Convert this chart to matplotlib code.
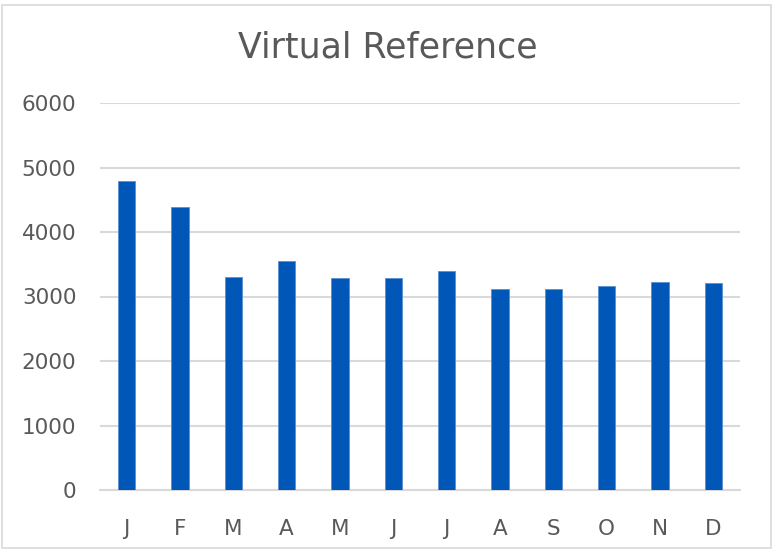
import matplotlib.pyplot as plt
from matplotlib.patches import Rectangle

# monthly values
months = ['J', 'F', 'M', 'A', 'M', 'J', 'J', 'A', 'S', 'O', 'N', 'D']
values = [4790, 4390, 3310, 3550, 3290, 3290, 3400, 3120, 3120, 3160, 3230, 3210]
y_ticks = [0, 1000, 2000, 3000, 4000, 5000, 6000]

plt.rcParams['font.family'] = ['DejaVu Sans']

fig = plt.figure(figsize=(7.75, 5.5), dpi=100)
ax = fig.add_axes([100 / 775, 1 - 490 / 550, 640 / 775, 387 / 550])

# bars
x = range(len(months))
ax.bar(x, values, width=0.32, color='#0057B8', edgecolor='#5B8FD0', linewidth=0.6, zorder=3)

# axes styling
ax.set_xlim(-0.5, len(months) - 0.5)
ax.set_ylim(0, 6000)
ax.set_yticks(y_ticks)
ax.set_yticklabels([str(v) for v in y_ticks])
ax.set_xticks(list(x))
ax.set_xticklabels(months)
ax.grid(axis='y', color='#D9D9D9', linewidth=1.5, zorder=0)
for side in ['top', 'right', 'left']:
    ax.spines[side].set_visible(False)
ax.spines['bottom'].set_color('#D9D9D9')
ax.spines['bottom'].set_linewidth(1.5)
ax.tick_params(axis='both', length=0, labelsize=15.5, labelcolor='#595959')
ax.tick_params(axis='y', pad=17)
ax.tick_params(axis='x', pad=21)

fig.text(0.5, 1 - 48 / 550, 'Virtual Reference', ha='center', va='center',
         fontsize=25, color='#595959')

# light chart border
fig.patches.append(Rectangle((2 / 775, 2 / 550), 769 / 775, 543 / 550,
                             transform=fig.transFigure, fill=False,
                             edgecolor='#D9D9D9', linewidth=1.2))

fig.savefig('out.png', dpi=100, facecolor='white')
